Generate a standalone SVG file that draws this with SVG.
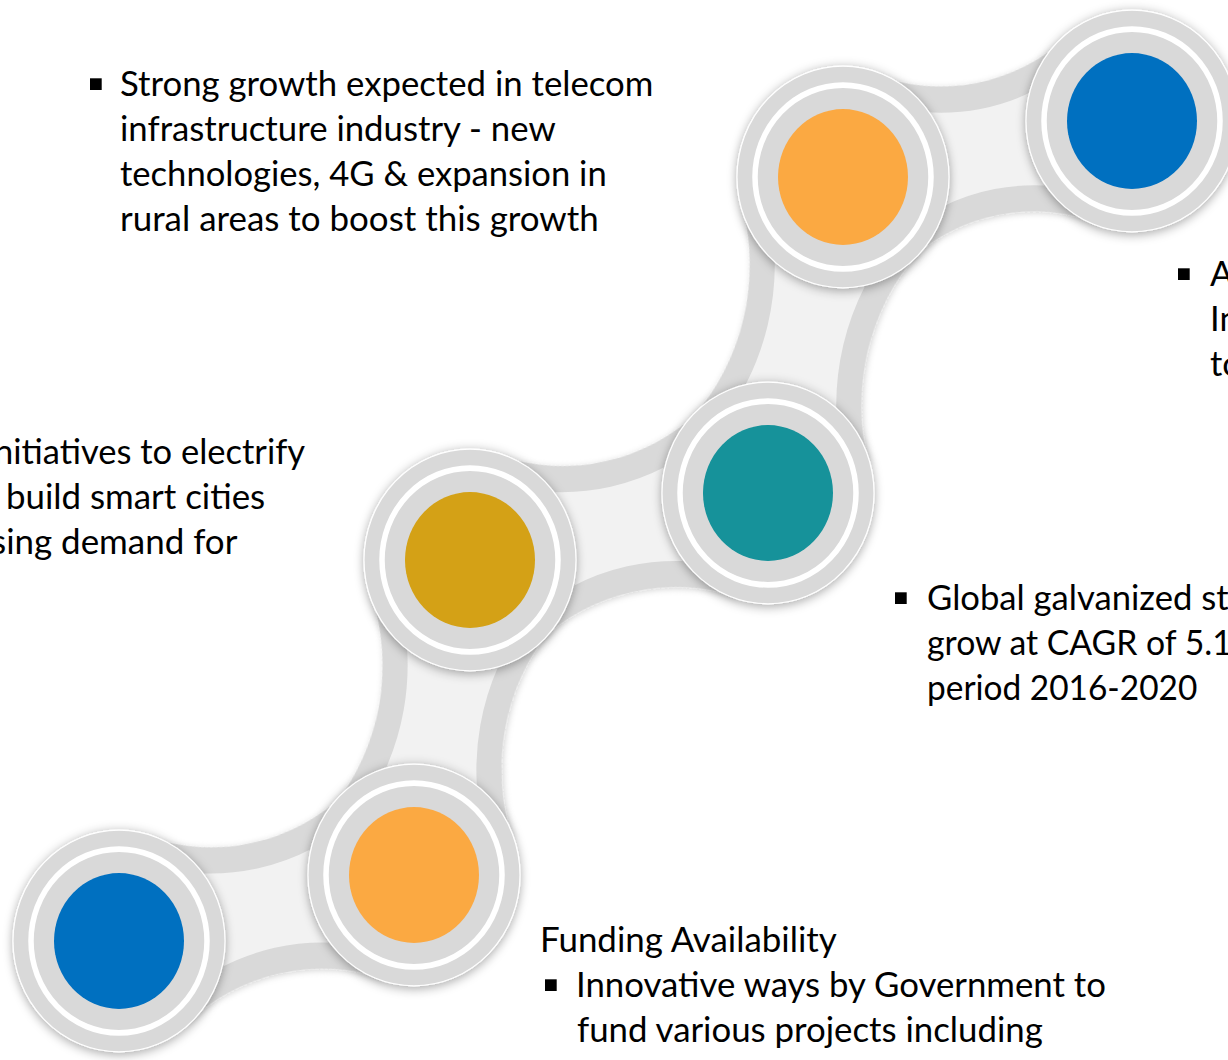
<svg xmlns="http://www.w3.org/2000/svg" xmlns:xlink="http://www.w3.org/1999/xlink" width="1228" height="1060" viewBox="0 0 1228 1060">
<defs>
<style>
.ring{fill:#d9d9d9;stroke:#ffffff;stroke-width:1.2}
.wring{fill:none;stroke:#ffffff;stroke-width:5.5}
.ld{fill:#d9d9d9}
.ll{fill:#f2f2f2}
.t{font-family:Lato,'Liberation Sans',sans-serif;font-size:34.5px;fill:#000000}
.b{fill:#000000}
</style>
<filter id="sh" x="-30%" y="-30%" width="160%" height="160%">
<feDropShadow dx="0" dy="2" stdDeviation="5" flood-color="#000000" flood-opacity="0.35"/>
</filter>
<filter id="lsh" x="-20%" y="-20%" width="140%" height="140%">
<feDropShadow dx="0" dy="1.5" stdDeviation="3" flood-color="#000000" flood-opacity="0.18"/>
</filter>
<path id="linkD" d="M50,-90.8 A200,200 0 0 0 250,-90.8 L250,90.8 A200,200 0 0 0 50,90.8 Z"/>
<path id="linkL" d="M40,-67.7 A225,225 0 0 0 260,-67.7 L260,67.7 A225,225 0 0 0 40,67.7 Z"/>
<g id="disc">
<circle r="106" class="ring"/>
<circle r="88" class="wring"/>
</g>
</defs>
<rect width="1228" height="1060" fill="#ffffff"/>

<g id="connectors" transform="scale(1,1.045)">
<g id="link-1-2" transform="translate(119,900.5) rotate(-12.09) scale(1.0057,1)"><use xlink:href="#linkD" class="ld" filter="url(#lsh)"/><use xlink:href="#linkL" class="ll"/></g>
<g id="link-2-3" transform="translate(414,837.3) rotate(-79.47) scale(1.022,1)"><use xlink:href="#linkD" class="ld" filter="url(#lsh)"/><use xlink:href="#linkL" class="ll"/></g>
<g id="link-3-4" transform="translate(470,535.9) rotate(-12.14) scale(1.016,1)"><use xlink:href="#linkD" class="ld" filter="url(#lsh)"/><use xlink:href="#linkL" class="ll"/></g>
<g id="link-4-5" transform="translate(768,471.8) rotate(-76.07) scale(1.0387,1)"><use xlink:href="#linkD" class="ld" filter="url(#lsh)"/><use xlink:href="#linkL" class="ll"/></g>
<g id="link-5-6" transform="translate(843,169.4) rotate(-10.51) scale(0.9797,1)"><use xlink:href="#linkD" class="ld" filter="url(#lsh)"/><use xlink:href="#linkL" class="ll"/></g>
</g>

<g id="node-1" transform="matrix(1,0,0,1.045,119,941)" filter="url(#sh)"><use xlink:href="#disc"/><circle r="65" fill="#0070c0"/></g>
<g id="node-2" transform="matrix(1,0,0,1.045,414,875)" filter="url(#sh)"><use xlink:href="#disc"/><circle r="65" fill="#fba943"/></g>
<g id="node-3" transform="matrix(1,0,0,1.045,470,560)" filter="url(#sh)"><use xlink:href="#disc"/><circle r="65" fill="#d4a113"/></g>
<g id="node-4" transform="matrix(1,0,0,1.045,768,493)" filter="url(#sh)"><use xlink:href="#disc"/><circle r="65" fill="#13929a"/></g>
<g id="node-5" transform="matrix(1,0,0,1.045,843,177)" filter="url(#sh)"><use xlink:href="#disc"/><circle r="65" fill="#fba943"/></g>
<g id="node-6" transform="matrix(1,0,0,1.045,1132,121)" filter="url(#sh)"><use xlink:href="#disc"/><circle r="65" fill="#0070c0"/></g>

<g id="text-telecom">
<rect class="b" x="90" y="78.3" width="11.7" height="11.7"/>
<text class="t" x="120" y="96" textLength="533.4" lengthAdjust="spacingAndGlyphs">Strong growth expected in telecom</text>
<text class="t" x="120" y="141" textLength="435.7" lengthAdjust="spacingAndGlyphs">infrastructure industry - new</text>
<text class="t" x="120" y="186" textLength="486.7" lengthAdjust="spacingAndGlyphs">technologies, 4G &amp; expansion in</text>
<text class="t" x="120" y="231" textLength="478.8" lengthAdjust="spacingAndGlyphs">rural areas to boost this growth</text>
</g>

<g id="text-right">
<rect class="b" x="1178" y="268.3" width="11.7" height="11.7"/>
<text class="t" x="1210" y="286">A</text>
<text class="t" x="1210" y="331">In</text>
<text class="t" x="1210" y="376">to</text>
</g>

<g id="text-left">
<text class="t" x="-6" y="464" textLength="311.1" lengthAdjust="spacingAndGlyphs">nitiatives to electrify</text>
<text class="t" x="6" y="509" textLength="259.2" lengthAdjust="spacingAndGlyphs">build smart cities</text>
<text class="t" x="-9" y="554" textLength="246.4" lengthAdjust="spacingAndGlyphs">sing demand for</text>
</g>

<g id="text-galvanized">
<rect class="b" x="895" y="592.3" width="11.7" height="11.7"/>
<text class="t" x="927" y="610" textLength="301.6" lengthAdjust="spacingAndGlyphs">Global galvanized st</text>
<text class="t" x="927" y="655" textLength="304.8" lengthAdjust="spacingAndGlyphs">grow at CAGR of 5.1</text>
<text class="t" x="927" y="700" textLength="270.3" lengthAdjust="spacingAndGlyphs">period 2016-2020</text>
</g>

<g id="text-funding">
<text class="t" x="540" y="952" textLength="296.8" lengthAdjust="spacingAndGlyphs">Funding Availability</text>
<rect class="b" x="545" y="979.3" width="11.7" height="11.7"/>
<text class="t" x="576" y="997" textLength="529.9" lengthAdjust="spacingAndGlyphs">Innovative ways by Government to</text>
<text class="t" x="577" y="1042" textLength="465.8" lengthAdjust="spacingAndGlyphs">fund various projects including</text>
</g>
</svg>
